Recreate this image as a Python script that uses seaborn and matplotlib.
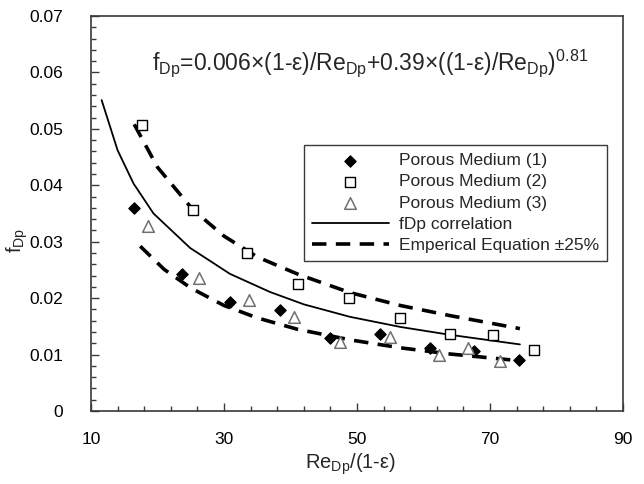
import matplotlib
matplotlib.use('Agg')
import matplotlib.pyplot as plt
from matplotlib.ticker import MultipleLocator, FuncFormatter
import pandas
import seaborn as sns

re_pm1 = [16.4, 23.7, 30.9, 38.4, 45.9, 53.5, 61.0, 67.6, 74.4]
f_pm1 = [0.0359, 0.0243, 0.0194, 0.0179, 0.0130, 0.0137, 0.0111, 0.0106, 0.0090]
re_pm2 = [17.6, 25.3, 33.4, 41.2, 48.8, 56.4, 64.0, 70.4, 76.6]
f_pm2 = [0.0506, 0.0357, 0.0280, 0.0225, 0.0200, 0.0165, 0.0136, 0.0134, 0.0108]
re_pm3 = [18.5, 26.2, 33.8, 40.6, 47.4, 54.9, 62.3, 66.7, 71.5]
f_pm3 = [0.0328, 0.0236, 0.0196, 0.0167, 0.0123, 0.0132, 0.0100, 0.0111, 0.0088]

# curves
re_corr = [11.6, 14.0, 16.4, 19.4, 24.9, 30.9, 36.9, 42.0, 48.9, 56.5, 64.0, 74.5]
f_corr = [0.0551, 0.0462, 0.0403, 0.0350, 0.0289, 0.0243, 0.0211, 0.0189, 0.0167, 0.0149, 0.0135, 0.0118]
re_upper = [16.5, 20.0, 25.3, 30.0, 35.0, 41.2, 48.9, 56.5, 64.0, 74.5]
f_upper = [0.0508, 0.0432, 0.0357, 0.0310, 0.0273, 0.0242, 0.0210, 0.0187, 0.0169, 0.0146]
re_lower = [17.4, 21.0, 25.0, 30.0, 35.0, 41.0, 49.0, 56.5, 64.0, 74.5]
f_lower = [0.0292, 0.0251, 0.0218, 0.0187, 0.0165, 0.0145, 0.0126, 0.0112, 0.0101, 0.0089]

sns.set_theme(style='white')
plt.rcParams['font.family'] = ['Liberation Sans', 'DejaVu Sans']
plt.rcParams['mathtext.fontset'] = 'custom'
plt.rcParams['mathtext.rm'] = 'Liberation Sans'
plt.rcParams['mathtext.it'] = 'Liberation Sans:italic'

df_pm1 = pandas.DataFrame({'re': re_pm1, 'f': f_pm1})
df_pm2 = pandas.DataFrame({'re': re_pm2, 'f': f_pm2})
df_pm3 = pandas.DataFrame({'re': re_pm3, 'f': f_pm3})

fig = plt.figure(figsize=(6.44, 4.84), dpi=100)
ax = fig.add_axes([91 / 644, 1 - 411 / 484, 532 / 644, 395 / 484])

dash = (0, (4, 2.6))
sns.lineplot(x=re_corr, y=f_corr, ax=ax, color='black', lw=1.3, sort=False,
             label='fDp correlation')
sns.lineplot(x=re_upper, y=f_upper, ax=ax, color='black', lw=2.6, linestyle=dash,
             sort=False, label='Emperical Equation ±25%')
sns.lineplot(x=re_lower, y=f_lower, ax=ax, color='black', lw=2.6, linestyle=dash,
             sort=False, label='_nolegend_')

sns.scatterplot(data=df_pm1, x='re', y='f', ax=ax, marker='D', s=34, color='black',
                edgecolor='black', linewidth=0.8, label='Porous Medium (1)', zorder=4)
sns.scatterplot(data=df_pm2, x='re', y='f', ax=ax, marker='s', s=44, color='white',
                edgecolor='black', linewidth=1.0, label='Porous Medium (2)', zorder=4)
sns.scatterplot(data=df_pm3, x='re', y='f', ax=ax, marker='^', s=70, color='white',
                edgecolor='#707070', linewidth=1.1, label='Porous Medium (3)', zorder=4)

ax.set_xlim(10, 90)
ax.set_ylim(0, 0.07)
ax.xaxis.set_major_locator(MultipleLocator(20, offset=10))
ax.xaxis.set_minor_locator(MultipleLocator(4, offset=2))
ax.yaxis.set_major_locator(MultipleLocator(0.01))
ax.yaxis.set_minor_locator(MultipleLocator(0.002))
ax.yaxis.set_major_formatter(FuncFormatter(lambda v, p: '0' if abs(v) < 1e-9 else f'{v:.2f}'))
ax.xaxis.set_major_formatter(FuncFormatter(lambda v, p: f'{v:.0f}'))
ax.tick_params(which='both', direction='in', left=True, bottom=True, top=False, right=False,
               colors='#3a3a3a', labelcolor='black', labelsize=12.5)
ax.tick_params(axis='x', which='major', length=6, width=1, pad=15)
ax.tick_params(axis='x', which='minor', length=3.5, width=1)
ax.tick_params(axis='y', which='major', length=6, width=1, pad=20)
ax.tick_params(axis='y', which='minor', length=3.5, width=1)
for s in ax.spines.values():
    s.set_color('#3a3a3a')
    s.set_linewidth(1.2)

ax.set_xlabel('Re$_{\\mathregular{Dp}}$/(1-ε)', fontsize=14.5)
ax.set_ylabel('f$_{\\mathregular{Dp}}$', fontsize=14.5)
ax.xaxis.set_label_coords(0.487, -0.103)
ax.yaxis.set_label_coords(-0.114, 0.433)

ax.text(0.524, 0.881,
        'f$_{\\mathregular{Dp}}$=0.006×(1-ε)/Re$_{\\mathregular{Dp}}$+0.39×((1-ε)/Re$_{\\mathregular{Dp}}$)$^{\\mathregular{0.81}}$',
        transform=ax.transAxes, ha='center', va='center', fontsize=16.5)

handles, labels = ax.get_legend_handles_labels()
ordem = ['Porous Medium (1)', 'Porous Medium (2)', 'Porous Medium (3)',
         'fDp correlation', 'Emperical Equation ±25%']
h = [handles[labels.index(l)] for l in ordem]
leg = ax.legend(h, ordem, loc='upper right', bbox_to_anchor=(0.97, 0.673), fontsize=12.5,
                frameon=True, fancybox=False, framealpha=1, edgecolor='#3a3a3a',
                handlelength=4.4, labelspacing=0.35, borderpad=0.45, handletextpad=0.6,
                borderaxespad=0)
leg.get_frame().set_linewidth(1.0)

plt.savefig('out.png', dpi=100)
